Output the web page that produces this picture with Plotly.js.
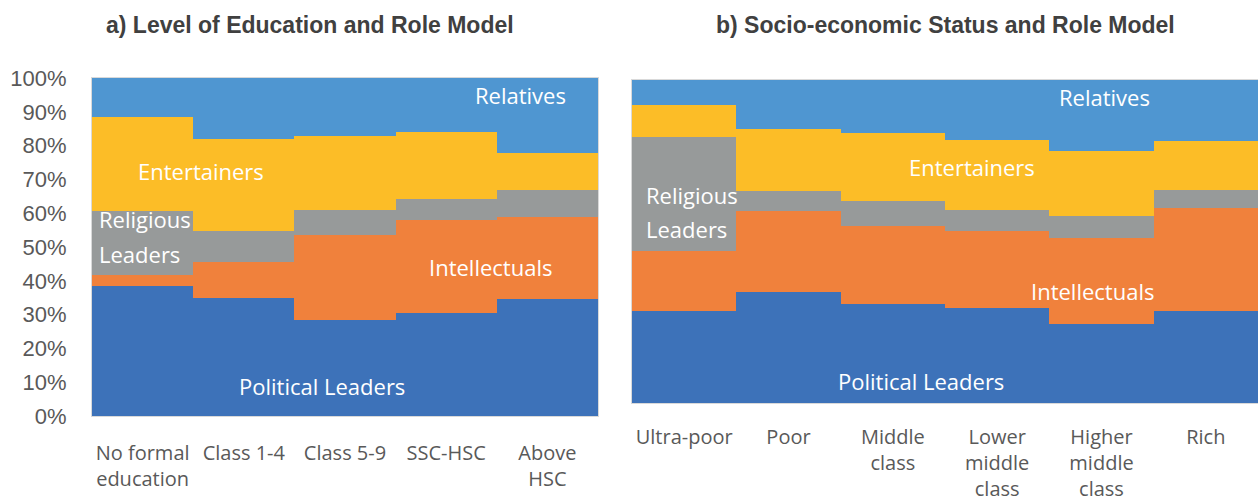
<!DOCTYPE html>
<html>
<head>
<meta charset="utf-8">
<script src="https://cdn.plot.ly/plotly-3.0.1.min.js"></script>
<style>
  html, body { margin: 0; padding: 0; background: #ffffff; }
  #chart { width: 1258px; height: 503px; }
</style>
</head>
<body>
<div id="chart"></div>
<script>
// ---- Data (percent shares) ----
const eduCategories = ['No formal education', 'Class 1-4', 'Class 5-9', 'SSC-HSC', 'Above HSC'];
const eduTickLabels = ['No formal<br>education', 'Class 1-4', 'Class 5-9', 'SSC-HSC', 'Above<br>HSC'];
const sesCategories = ['Ultra-poor', 'Poor', 'Middle class', 'Lower middle class', 'Higher middle class', 'Rich'];
const sesTickLabels = ['Ultra-poor', 'Poor', 'Middle<br>class', 'Lower<br>middle<br>class', 'Higher<br>middle<br>class', 'Rich'];

const seriesNames = ['Political Leaders', 'Intellectuals', 'Religious Leaders', 'Entertainers', 'Relatives'];

const eduPolitical     = [38.5, 34.8, 28.3, 30.6, 34.5];
const eduIntellectual  = [3.2, 10.9, 25.3, 27.5, 24.3];
const eduReligious     = [19.0, 9.0, 7.3, 6.1, 8.1];
const eduEntertainers  = [27.7, 27.3, 21.8, 19.9, 10.8];
const eduRelatives     = [11.6, 18.0, 17.3, 15.9, 22.3];

const sesPolitical     = [28.6, 34.5, 30.6, 29.3, 24.4, 28.5];
const sesIntellectual  = [18.5, 24.8, 24.3, 23.9, 26.6, 31.8];
const sesReligious     = [35.3, 6.2, 7.7, 6.7, 6.9, 5.8];
const sesEntertainers  = [9.8, 19.4, 21.1, 21.5, 20.2, 15.0];
const sesRelatives     = [7.8, 15.1, 16.3, 18.6, 21.9, 18.9];

const yTickVals = [0, 10, 20, 30, 40, 50, 60, 70, 80, 90, 100];
const yTickText = ['0%', '10%', '20%', '30%', '40%', '50%', '60%', '70%', '80%', '90%', '100%'];

// ---- Styles ----
const colors = ['#3D72B9', '#F0813C', '#979A9A', '#FCBD27', '#4F96D1'];

const eduSeries = [eduPolitical, eduIntellectual, eduReligious, eduEntertainers, eduRelatives];
const sesSeries = [sesPolitical, sesIntellectual, sesReligious, sesEntertainers, sesRelatives];

const traces = [];
eduSeries.forEach((vals, i) => {
  traces.push({
    type: 'bar', name: seriesNames[i], x: eduCategories, y: vals,
    xaxis: 'x', yaxis: 'y',
    marker: { color: colors[i], line: { width: 0 } },
    showlegend: false, hoverinfo: 'x+y+name'
  });
});
sesSeries.forEach((vals, i) => {
  traces.push({
    type: 'bar', name: seriesNames[i], x: sesCategories, y: vals,
    xaxis: 'x2', yaxis: 'y2',
    marker: { color: colors[i], line: { width: 0 } },
    showlegend: false, hoverinfo: 'x+y+name'
  });
});

const W = 1258, H = 503;
const tickFont = { family: 'Open Sans, sans-serif', size: 20, color: '#595959' };
const labelFont = { family: 'Open Sans, sans-serif', size: 22, color: '#ffffff' };
const titleFont = { family: 'Liberation Sans Narrow, Liberation Sans, Arial, sans-serif', size: 23, color: '#404040' };

function lab(text, x, y, xref, yref, anchor) {
  return { text: text, x: x, y: y, xref: xref, yref: yref, showarrow: false,
           xanchor: anchor || 'center', yanchor: 'middle', font: labelFont };
}

const annotations = [
  { text: '<b>a) Level of Education and Role Model</b>', x: 310 / W, y: 1 - 25 / H, xref: 'paper', yref: 'paper',
    showarrow: false, xanchor: 'center', yanchor: 'middle', font: titleFont },
  { text: '<b>b) Socio-economic Status and Role Model</b>', x: 945 / W, y: 1 - 25 / H, xref: 'paper', yref: 'paper',
    showarrow: false, xanchor: 'center', yanchor: 'middle', font: titleFont },
  // panel a labels
  lab('Relatives', 3.73, 95.0, 'x', 'y'),
  lab('Entertainers', 0.58, 72.5, 'x', 'y'),
  lab('Religious', -0.45, 58.3, 'x', 'y', 'left'),
  lab('Leaders', -0.45, 47.9, 'x', 'y', 'left'),
  lab('Intellectuals', 3.44, 44.1, 'x', 'y'),
  lab('Political Leaders', 1.77, 8.9, 'x', 'y'),
  // panel b labels
  lab('Relatives', 4.03, 94.7, 'x2', 'y2'),
  lab('Entertainers', 2.76, 73.1, 'x2', 'y2'),
  lab('Religious', -0.385, 64.4, 'x2', 'y2', 'left'),
  lab('Leaders', -0.385, 53.9, 'x2', 'y2', 'left'),
  lab('Intellectuals', 3.91, 34.7, 'x2', 'y2'),
  lab('Political Leaders', 2.27, 6.9, 'x2', 'y2')
];

const axisLine = { showline: true, mirror: true, linecolor: '#D9D9D9', linewidth: 1 };

const layout = {
  width: W, height: H,
  margin: { l: 0, r: 0, t: 0, b: 0 },
  paper_bgcolor: '#ffffff', plot_bgcolor: '#ffffff',
  barmode: 'stack', bargap: 0,
  showlegend: false,
  xaxis: Object.assign({
    domain: [92 / W, 598 / W], anchor: 'y', type: 'category',
    tickmode: 'array', tickvals: eduCategories, ticktext: eduTickLabels,
    ticks: 'outside', ticklen: 19, tickcolor: 'rgba(0,0,0,0)',
    tickfont: tickFont, showgrid: false, zeroline: false, fixedrange: true
  }, axisLine),
  yaxis: Object.assign({
    domain: [(H - 416) / H, (H - 78) / H], anchor: 'x', range: [0, 100],
    tickmode: 'array', tickvals: yTickVals, ticktext: yTickText,
    ticks: 'outside', ticklen: 20, tickcolor: 'rgba(0,0,0,0)',
    tickfont: { family: 'Liberation Sans, Arial, sans-serif', size: 22, color: '#595959' },
    showgrid: false, zeroline: false, fixedrange: true
  }, axisLine),
  xaxis2: Object.assign({
    domain: [632 / W, 1], anchor: 'y2', type: 'category',
    tickmode: 'array', tickvals: sesCategories, ticktext: sesTickLabels,
    ticks: 'outside', ticklen: 16, tickcolor: 'rgba(0,0,0,0)',
    tickfont: tickFont, showgrid: false, zeroline: false, fixedrange: true
  }, axisLine),
  yaxis2: Object.assign({
    domain: [(H - 403) / H, (H - 80) / H], anchor: 'x2', range: [0, 100],
    showticklabels: false, ticks: '', showgrid: false, zeroline: false, fixedrange: true
  }, axisLine),
  annotations: annotations
};

Plotly.newPlot('chart', traces, layout, { displayModeBar: false, staticPlot: false });
</script>
</body>
</html>
